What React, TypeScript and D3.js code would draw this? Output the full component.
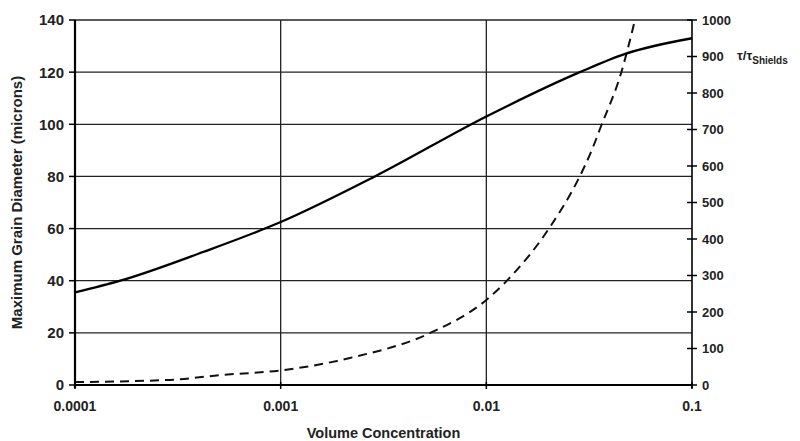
import React from 'react'
import * as d3 from 'd3'

// solid line, left axis (microns)
const grainConc = [0.0001, 0.000166, 0.000419, 0.001, 0.00287, 0.01, 0.0285, 0.0473, 0.1]
const grainDiam = [35.5, 40, 51, 62.5, 80, 103, 120, 127, 133]

// dashed line, right axis (tau / tau Shields)
const tauConc = [0.0001, 0.00029, 0.000507, 0.001, 0.00188, 0.00217, 0.0055, 0.01, 0.0127, 0.0204, 0.0279, 0.0326, 0.0356, 0.0455, 0.0528]
const tauRatio = [8, 14, 27, 40, 66, 74, 146, 233, 288, 433, 562, 644, 700, 860, 1000]

const xTicks = [0.0001, 0.001, 0.01, 0.1]
const xTickLabels = ['0.0001', '0.001', '0.01', '0.1']
const leftTicks = [0, 20, 40, 60, 80, 100, 120, 140]
const rightTicks = [0, 100, 200, 300, 400, 500, 600, 700, 800, 900, 1000]

const W = 800, H = 441
const m = { left: 75, right: 692, top: 20, bottom: 385 }
const font = 'Liberation Sans, Arial, sans-serif'

export default function App() {
  const x = d3.scaleLog().domain([0.0001, 0.1]).range([m.left, m.right])
  const yL = d3.scaleLinear().domain([0, 140]).range([m.bottom, m.top])
  const yR = d3.scaleLinear().domain([0, 1000]).range([m.bottom, m.top])

  const solid = d3.line<number>()
    .x((_, i) => x(grainConc[i]))
    .y(d => yL(d))
    .curve(d3.curveMonotoneX)(grainDiam)

  const dashed = d3.line<number>()
    .x((_, i) => x(tauConc[i]))
    .y(d => yR(d))
    .curve(d3.curveMonotoneX)(tauRatio)

  return (
    <svg width={W} height={H} style={{ position: 'absolute', left: 0, top: 0, background: '#fff' }}
      fontFamily={font} fontWeight="bold">
      {/* horizontal grid */}
      {leftTicks.filter(t => t > 0).map(t => (
        <line key={'h' + t} x1={m.left} x2={m.right} y1={yL(t)} y2={yL(t)} stroke="#222" strokeWidth={1.3} />
      ))}
      {/* vertical grid */}
      {xTicks.slice(1, -1).map(t => (
        <line key={'v' + t} x1={x(t)} x2={x(t)} y1={m.top} y2={m.bottom} stroke="#222" strokeWidth={1.3} />
      ))}

      {/* left axis */}
      <line x1={m.left} x2={m.left} y1={m.top} y2={m.bottom + 3} stroke="#000" strokeWidth={2.2} />
      {leftTicks.map(t => (
        <g key={'l' + t}>
          <line x1={m.left - 6} x2={m.left} y1={yL(t)} y2={yL(t)} stroke="#000" strokeWidth={1.5} />
          <text x={m.left - 11} y={yL(t)} dy="0.36em" textAnchor="end" fontSize={15} fill="#222">{t}</text>
        </g>
      ))}

      {/* right axis */}
      <line x1={m.right} x2={m.right} y1={m.top} y2={m.bottom + 3} stroke="#000" strokeWidth={1.6} />
      {rightTicks.map(t => (
        <g key={'r' + t}>
          <line x1={m.right - 5} x2={m.right + 5} y1={yR(t)} y2={yR(t)} stroke="#000" strokeWidth={1.5} />
          <text x={m.right + 10} y={yR(t)} dy="0.36em" fontSize={13} fill="#222">{t}</text>
        </g>
      ))}

      {/* bottom axis */}
      <line x1={m.left} x2={m.right} y1={m.bottom} y2={m.bottom} stroke="#000" strokeWidth={2.2} />
      {xTicks.map((t, i) => (
        <g key={'x' + t}>
          <line x1={x(t)} x2={x(t)} y1={m.bottom - 3} y2={m.bottom + 4} stroke="#000" strokeWidth={1.5} />
          <text x={x(t)} y={m.bottom + 21} dy="0.36em" textAnchor="middle" fontSize={14} fill="#222">{xTickLabels[i]}</text>
        </g>
      ))}

      {/* series */}
      <path d={dashed ?? ''} fill="none" stroke="#111" strokeWidth={2} strokeDasharray="9,6" />
      <path d={solid ?? ''} fill="none" stroke="#000" strokeWidth={2.3} />

      {/* titles */}
      <text x={(m.left + m.right) / 2} y={433} dy="0.36em" textAnchor="middle" fontSize={14.5} fill="#222">Volume Concentration</text>
      <text transform={`translate(17,${(m.top + m.bottom) / 2}) rotate(-90)`} dy="0.36em" textAnchor="middle"
        fontSize={15} fill="#222">Maximum Grain Diameter (microns)</text>
      <text x={737} y={55} dy="0.36em" fontSize={13} fill="#222">
        τ/τ<tspan fontSize={10} dy="4">Shields</tspan>
      </text>
    </svg>
  )
}
